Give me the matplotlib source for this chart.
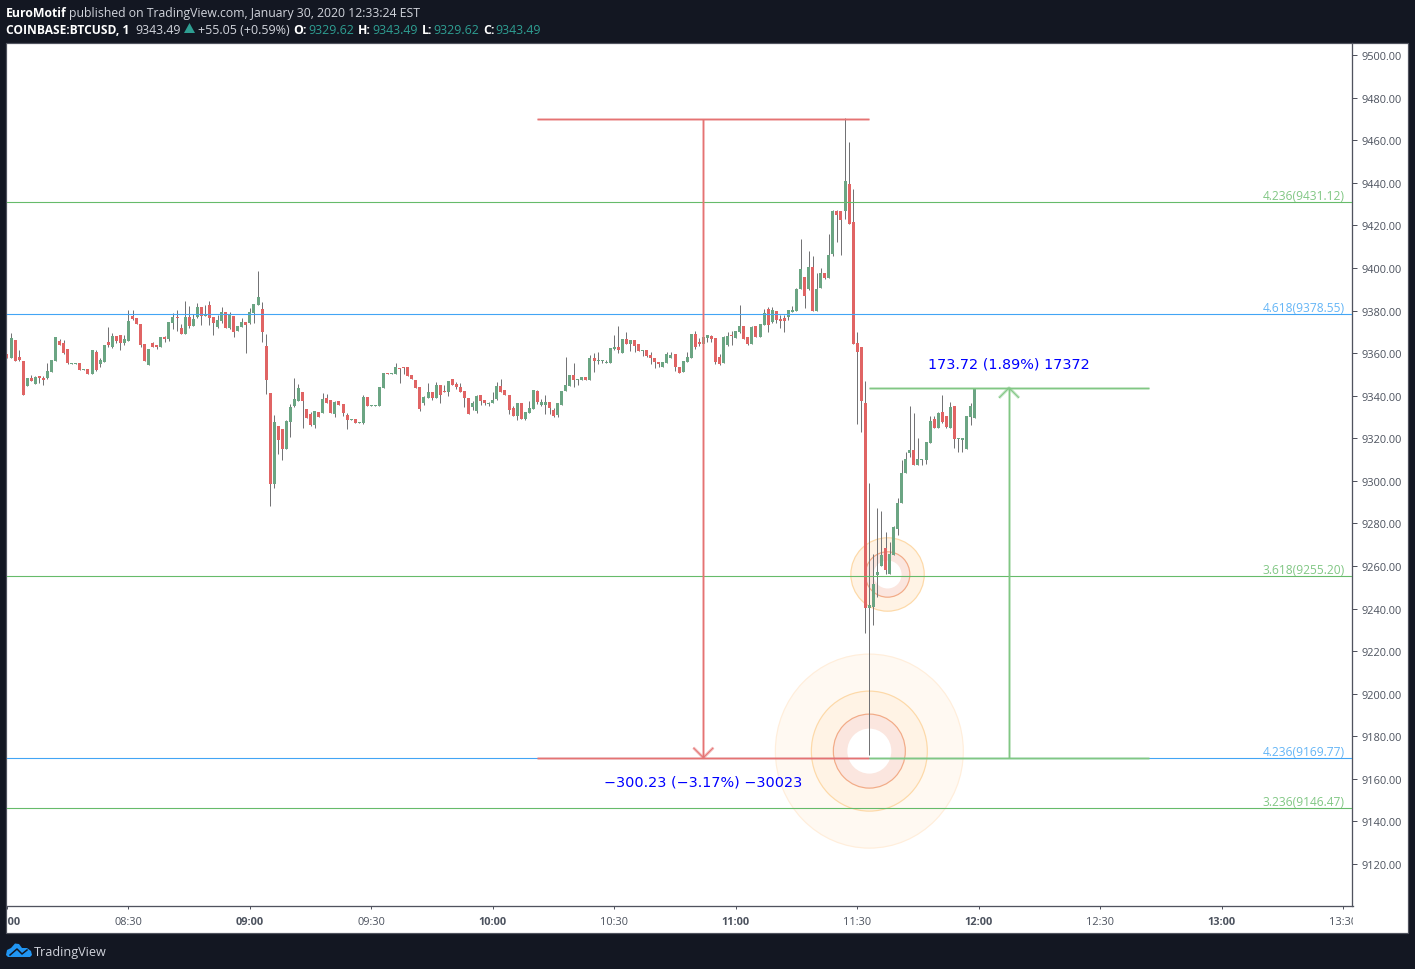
import matplotlib
matplotlib.use("Agg")
import matplotlib.pyplot as plt
import numpy as np
from matplotlib.patches import Rectangle, Ellipse, Polygon
from matplotlib.transforms import IdentityTransform, Bbox

minutes_per_candle = 1
opens = [
 9359.5,9357.6,9366.0,9358.0,9356.2,9344.4,9348.2,9345.4,9349.1,9348.2,
 9348.2,9351.0,9356.2,9365.6,9364.6,9361.8,9354.9,9354.9,9355.2,9352.1,
 9352.4,9350.1,9360.4,9354.8,9355.7,9365.1,9362.7,9367.9,9368.4,9364.6,
 9365.6,9377.3,9376.4,9373.6,9364.2,9354.3,9364.6,9363.7,9362.7,9367.4,
 9366.5,9374.0,9376.8,9371.7,9368.9,9376.8,9372.6,9376.8,9381.5,9377.3,
 9382.5,9376.8,9372.1,9375.0,9379.2,9371.7,9377.3,9370.3,9372.1,9374.5,
 9374.0,9378.7,9382.5,9380.6,9363.2,9341.1,9298.4,9325.6,9324.3,9314.9,
 9327.5,9335.0,9337.4,9341.6,9333.6,9331.3,9326.1,9332.2,9331.8,9338.8,
 9337.9,9331.3,9337.4,9336.0,9330.8,9328.5,9328.9,9327.1,9327.1,9339.3,
 9335.0,9335.0,9335.0,9343.5,9350.6,9350.1,9350.1,9352.9,9353.4,9353.4,
 9349.6,9347.3,9344.0,9336.5,9338.8,9341.6,9338.8,9344.9,9342.1,9341.6,
 9347.7,9345.4,9344.0,9342.1,9338.8,9334.6,9332.7,9340.2,9337.9,9336.0,
 9336.5,9338.3,9344.4,9342.5,9340.2,9334.1,9330.4,9336.5,9328.9,9331.8,
 9333.6,9342.1,9335.5,9335.5,9336.9,9333.2,9330.8,9335.5,9342.1,9344.4,
 9349.6,9347.2,9347.2,9348.6,9347.2,9357.6,9356.2,9356.2,9355.2,9355.2,
 9361.8,9362.7,9359.9,9366.5,9364.2,9366.0,9364.2,9360.9,9361.3,9359.0,
 9357.6,9355.7,9353.3,9355.2,9357.6,9359.5,9353.3,9351.0,9355.7,9357.6,
 9368.9,9365.1,9364.2,9367.0,9367.9,9367.0,9358.0,9355.2,9363.7,9368.4,
 9367.0,9369.8,9372.6,9367.4,9364.2,9372.6,9367.4,9373.1,9380.6,9374.5,
 9379.7,9375.9,9376.4,9376.8,9379.2,9379.7,9390.0,9395.7,9390.0,9400.4,
 9379.7,9390.5,9397.5,9395.2,9406.5,9426.7,9426.7,9426.7,9439.4,9421.5,
 9364.6,9362.8,9336.4,9240.1,9240.6,9255.6,9259.9,9268.3,9256.1,9265.0,
 9277.2,9289.4,9303.5,9312.9,9314.3,9307.3,9309.6,9309.6,9317.6,9328.9,
 9324.7,9332.2,9330.3,9324.7,9335.0,9319.5,9319.0,9314.8,9329.8,9329.62]
highs = [
 9359.5,9369.3,9366.0,9361.3,9356.2,9348.2,9349.6,9349.1,9349.1,9349.1,
 9355.2,9356.6,9367.4,9366.5,9366.0,9361.8,9355.2,9355.2,9355.2,9352.4,
 9352.4,9361.3,9361.3,9357.6,9363.7,9372.1,9369.3,9367.9,9368.4,9368.4,
 9380.1,9380.1,9376.4,9373.6,9364.2,9361.8,9365.1,9363.7,9367.4,9367.9,
 9374.5,9378.7,9380.1,9373.6,9384.4,9382.0,9378.3,9383.4,9381.5,9382.5,
 9384.4,9376.8,9377.8,9381.5,9379.2,9379.2,9377.3,9372.6,9376.4,9374.5,
 9381.1,9383.0,9398.5,9383.9,9368.9,9341.1,9330.8,9325.6,9324.3,9328.5,
 9336.0,9348.2,9345.4,9341.6,9333.6,9332.2,9332.7,9332.2,9341.1,9340.7,
 9337.9,9337.4,9337.4,9336.0,9331.8,9328.9,9328.9,9327.5,9340.2,9339.3,
 9335.5,9335.5,9344.0,9350.6,9350.6,9350.6,9355.3,9352.9,9353.4,9353.4,
 9349.6,9347.3,9344.0,9339.7,9345.9,9341.6,9346.3,9344.9,9344.9,9346.8,
 9347.7,9346.3,9345.9,9342.1,9338.8,9337.4,9340.2,9340.2,9337.9,9336.9,
 9341.6,9346.3,9347.7,9342.5,9340.2,9335.0,9336.5,9336.5,9332.2,9337.4,
 9342.5,9342.5,9338.3,9340.2,9336.9,9334.1,9336.5,9342.1,9358.0,9349.6,
 9355.2,9347.7,9348.6,9348.6,9359.0,9359.9,9360.4,9356.6,9356.6,9362.3,
 9368.4,9372.6,9366.5,9369.8,9366.0,9366.0,9364.2,9361.3,9361.3,9360.4,
 9357.6,9355.7,9355.7,9360.4,9360.4,9359.5,9353.3,9356.2,9360.4,9368.9,
 9370.3,9367.0,9367.4,9368.4,9368.4,9367.0,9359.5,9367.9,9369.8,9370.3,
 9370.3,9382.5,9372.6,9367.4,9372.6,9372.6,9373.6,9380.6,9381.5,9381.5,
 9379.7,9377.8,9377.8,9380.1,9382.0,9390.5,9413.5,9395.7,9407.9,9405.5,
 9397.5,9399.9,9397.5,9415.9,9427.1,9427.1,9426.7,9470.4,9459.1,9437.0,
 9369.8,9362.8,9346.8,9298.9,9265.5,9287.1,9285.7,9275.8,9271.1,9278.6,
 9291.8,9309.6,9313.4,9335.0,9331.7,9320.0,9310.1,9318.1,9330.3,9330.3,
 9332.2,9340.2,9330.3,9336.9,9335.0,9320.0,9320.0,9330.3,9336.4,9343.49]
lows = [
 9357.6,9357.6,9356.2,9356.2,9340.2,9344.4,9346.8,9345.4,9345.8,9344.9,
 9347.7,9351.0,9356.2,9363.7,9359.5,9354.8,9354.9,9354.9,9351.9,9352.1,
 9350.1,9350.1,9351.5,9353.3,9355.7,9362.7,9362.3,9364.6,9361.3,9363.7,
 9365.6,9375.4,9373.6,9362.7,9356.2,9354.3,9362.7,9361.8,9362.7,9365.1,
 9365.6,9371.2,9370.3,9368.9,9368.9,9371.7,9372.6,9376.4,9373.1,9377.3,
 9373.1,9368.4,9371.7,9374.0,9371.7,9371.2,9367.4,9370.3,9372.1,9359.9,
 9373.6,9374.0,9382.5,9365.1,9340.7,9288.0,9296.5,9312.5,9309.7,9314.9,
 9320.5,9334.6,9337.4,9324.7,9329.4,9325.6,9324.7,9329.9,9331.8,9336.5,
 9331.8,9329.9,9335.5,9330.4,9324.2,9328.5,9327.1,9327.1,9326.6,9335.0,
 9335.0,9335.0,9335.0,9343.5,9350.1,9350.1,9350.1,9345.9,9350.1,9349.1,
 9347.7,9343.5,9332.7,9335.5,9338.8,9337.9,9338.8,9336.5,9341.6,9339.7,
 9344.9,9343.0,9341.6,9334.6,9331.3,9333.2,9331.8,9335.5,9335.5,9335.0,
 9336.5,9337.9,9341.6,9340.2,9331.3,9330.4,9328.5,9328.9,9328.5,9331.8,
 9333.6,9336.0,9335.0,9331.3,9331.3,9329.9,9329.9,9335.5,9342.1,9344.4,
 9343.9,9344.9,9347.2,9347.2,9347.2,9351.0,9354.8,9355.2,9355.2,9355.2,
 9361.3,9359.9,9359.9,9364.2,9360.9,9360.4,9360.9,9358.5,9358.0,9354.8,
 9352.9,9353.3,9353.3,9355.2,9357.6,9351.5,9350.5,9351.0,9355.7,9357.6,
 9361.8,9363.2,9364.2,9365.1,9365.1,9354.8,9354.3,9355.2,9363.2,9363.7,
 9367.0,9369.3,9366.5,9363.7,9364.2,9367.4,9367.4,9373.1,9369.8,9374.0,
 9374.0,9371.7,9369.8,9375.4,9379.2,9379.7,9390.0,9381.1,9389.5,9379.7,
 9379.7,9390.5,9394.7,9395.2,9405.5,9412.1,9406.0,9422.9,9420.6,9364.2,
 9326.6,9322.8,9228.4,9171.0,9232.1,9245.3,9259.9,9256.1,9256.1,9265.0,
 9274.4,9289.4,9303.5,9311.0,9307.3,9307.3,9307.3,9307.8,9317.6,9324.7,
 9324.7,9327.0,9324.7,9324.7,9315.3,9313.4,9313.4,9314.8,9326.1,9329.62]
closes = [
 9357.6,9367.0,9356.2,9356.6,9340.2,9348.2,9346.8,9348.6,9348.2,9347.2,
 9351.5,9356.6,9367.4,9363.7,9359.9,9355.2,9355.2,9355.2,9351.9,9352.4,
 9350.1,9361.3,9351.9,9356.6,9363.7,9363.7,9367.9,9365.6,9364.6,9366.5,
 9375.0,9375.9,9373.6,9363.7,9356.2,9361.8,9362.7,9362.7,9367.4,9366.5,
 9374.5,9376.8,9376.4,9368.9,9376.8,9372.6,9375.9,9381.5,9377.3,9378.3,
 9376.4,9374.0,9375.4,9379.2,9371.7,9377.8,9369.8,9372.6,9374.5,9373.1,
 9379.2,9383.0,9386.2,9369.8,9347.2,9298.4,9327.5,9319.0,9314.9,9328.0,
 9334.6,9338.3,9343.5,9337.4,9329.4,9326.1,9332.7,9329.9,9338.3,9336.5,
 9331.8,9336.9,9335.5,9331.8,9328.5,9328.9,9327.1,9327.5,9339.3,9335.0,
 9335.5,9335.5,9344.0,9350.6,9350.1,9350.6,9353.4,9352.4,9352.9,9349.1,
 9347.7,9343.5,9333.6,9339.3,9341.6,9338.8,9344.9,9340.2,9341.6,9346.8,
 9344.9,9344.0,9341.6,9338.8,9331.3,9336.5,9339.7,9337.4,9336.5,9336.5,
 9337.9,9344.4,9341.6,9340.2,9333.2,9330.4,9336.5,9328.9,9332.2,9334.1,
 9342.5,9336.9,9336.9,9336.9,9334.1,9330.4,9336.5,9342.1,9344.9,9349.6,
 9347.2,9347.7,9348.6,9347.2,9357.6,9356.2,9356.6,9356.6,9355.7,9362.3,
 9362.7,9361.3,9366.5,9364.2,9366.0,9363.2,9360.9,9361.3,9358.5,9357.6,
 9355.7,9354.8,9355.7,9359.5,9359.0,9353.3,9350.5,9356.2,9358.0,9368.9,
 9362.7,9364.2,9367.4,9368.4,9366.5,9355.7,9354.8,9367.4,9367.9,9367.9,
 9370.3,9372.6,9366.5,9364.2,9372.1,9367.4,9373.6,9378.7,9373.1,9380.1,
 9375.4,9375.0,9375.0,9380.1,9380.1,9390.0,9399.4,9386.7,9400.4,9379.7,
 9390.0,9397.5,9395.2,9406.0,9426.7,9424.8,9422.4,9440.8,9420.6,9364.2,
 9360.4,9337.4,9240.1,9241.5,9251.4,9257.0,9265.0,9258.0,9265.5,9278.2,
 9289.4,9303.5,9310.1,9314.3,9307.3,9310.1,9310.1,9318.1,9328.0,9324.7,
 9331.7,9327.5,9325.1,9334.5,9319.5,9320.0,9320.0,9330.3,9335.0,9343.49]

fib_prices = [9431.12, 9378.55, 9255.20, 9169.77, 9146.47]
fib_labels = ["4.236(9431.12)", "4.618(9378.55)", "3.618(9255.20)", "4.236(9169.77)", "3.236(9146.47)"]
fib_kinds = ["green", "blue", "green", "blue", "green"]
price_ticks = list(range(9120, 9501, 20))
time_ticks = list(range(0, 331, 30))
time_labels = ["08:00","08:30","09:00","09:30","10:00","10:30","11:00","11:30","12:00","12:30","13:00","13:30"]
drop_high, drop_low = 9470.2, 9169.9
rise_high = 9343.7
drop_label = "\u2212300.23 (\u22123.17%) \u221230023"
rise_label = "173.72 (1.89%) 17372"

BG = "#131722"; UP = "#6BA583"; DOWN = "#E06464"; WICK = "#737375"
AXC = "#50535E"; TXT = "#4C525E"; UI = "Open Sans"
W, H = 1415, 970
px = lambda v: v * 72 / 100

fig = plt.figure(figsize=(W / 100, H / 100), dpi=100, facecolor=BG)
idt = IdentityTransform()
fig.add_artist(Rectangle((6.0, H - 933.5), 1401.5, 890, transform=idt, fc="white", ec=AXC, lw=px(1.2), zorder=-5))

AX_L, AX_R, AX_T, AX_B = 7, 1352.5, 44, 906.5
ax = fig.add_axes([AX_L / W, (H - AX_B) / H, (AX_R - AX_L) / W, (AX_B - AX_T) / H])
PPM, PPU = 4.05, 2.128
X0, Y_SHIFT = 0.12, 0.12
ax.set_xlim(X0, X0 + (AX_R - AX_L) / PPM)
ax.set_ylim(9500 - (AX_B - 56) / PPU + Y_SHIFT, 9500 + (56 - AX_T) / PPU + Y_SHIFT)
ax.patch.set_alpha(0)
for s in ("top", "left"):
    ax.spines[s].set_visible(False)
for s in ("right", "bottom"):
    ax.spines[s].set_color(AXC); ax.spines[s].set_linewidth(px(1.3))

# target rings
def ring(cx, cy, rpx, rpy, fc, ec, z=1):
    ax.add_patch(Ellipse((cx, cy), 2 * rpx / PPM, 2 * rpy / PPU, fc=fc, ec=ec, lw=px(1.2), zorder=z))
big = (213.0, 9173.0); small = (217.5, 9256.0)
ring(*big, 94, 97, "#FFF9F2", "#FFEEDB")
ring(*big, 58, 60, "#FFF3E5", "#FDD9A8")
ring(*big, 36, 37, "#FBE6DF", "#F2AB87")
ring(*big, 22, 22.5, "white", "none")
ring(*small, 36.7, 36.7, "#FFF3E5", "#FDD9A8")
ring(*small, 22.3, 22.7, "#FBE6DF", "#F2AB87")
ring(*small, 14, 14, "white", "none")

# candles
o, h, l, c = map(np.array, (opens, highs, lows, closes))
xs = np.arange(len(o)) * minutes_per_candle
up = c >= o
ax.vlines(xs, l, h, color=WICK, lw=px(1), zorder=3)
ax.bar(xs, np.maximum(np.abs(c - o), 0.35), bottom=np.minimum(o, c), width=3.0 / PPM,
       color=np.where(up, UP, DOWN), lw=0, zorder=4)

# fib levels
fib_col = {"green": ("#66BB6A", "#81C784"), "blue": ("#42A5F5", "#64B5F6")}
for p, lab, k in zip(fib_prices, fib_labels, fib_kinds):
    ax.axhline(p, color=fib_col[k][0], lw=px(1.1), zorder=5)
    ax.annotate(lab, (1, p), xycoords=("axes fraction", "data"), xytext=(-5.5, 0), textcoords="offset points",
                ha="right", va="bottom", color=fib_col[k][1], fontsize=px(12), family=UI, zorder=6)

# measure tools
def halo(xv, yv, col, z=7):
    ax.plot(xv, yv, color=col, lw=px(3), alpha=0.45, solid_capstyle="butt", zorder=z)
    ax.plot(xv, yv, color=col, lw=px(1), solid_capstyle="butt", zorder=z)
RED, GRN = "#E57373", "#81C784"
d0, d1, dm = 131, 213, 172
halo([d0, d1], [drop_high, drop_high], RED); halo([d0, d1], [drop_low, drop_low], RED)
halo([dm, dm], [drop_high, drop_low], RED)
dx, dy = 10 / PPM, 10 / PPU
halo([dm - dx, dm, dm + dx], [drop_low + dy, drop_low, drop_low + dy], RED)
r0, r1, rm = 213, 282.2, 247.5
halo([r0, r1], [rise_high, rise_high], GRN); halo([r0, r1], [drop_low, drop_low], GRN)
halo([rm, rm], [drop_low, rise_high], GRN)
halo([rm - dx, rm, rm + dx], [rise_high - dy, rise_high, rise_high - dy], GRN)
ax.text(dm, drop_low - 11.2, drop_label, color="#0000FF", ha="center", va="center", fontsize=px(14.4), family="DejaVu Sans", zorder=8)
ax.text(rm, rise_high + 11.5, rise_label, color="#0000FF", ha="center", va="center", fontsize=px(14.4), family="DejaVu Sans", zorder=8)

# axes
ax.yaxis.tick_right()
ax.set_yticks(price_ticks)
ax.set_yticklabels([f"{v:.2f}" for v in price_ticks], family=UI, fontsize=px(11), color=TXT)
ax.tick_params(axis="y", length=px(5), width=px(1), color=AXC, pad=px(4))
ax.set_xticks(time_ticks)
ax.set_xticklabels(time_labels, family=UI, fontsize=px(11), color=TXT)
ax.tick_params(axis="x", length=px(3), width=px(1), color=AXC, pad=px(8))
clip = Bbox([[AX_L, H - 933], [AX_R, H - AX_B]])
for lab in ax.get_xticklabels():
    if lab.get_text().endswith(":00"):
        lab.set_fontweight("bold")
    lab.set_clip_box(clip); lab.set_clip_on(True)

# header
def t(x, y, s, col="#D1D4DC", weight="normal", size=12.3, fam=UI):
    return fig.text(x, H - y, s, transform=idt, color=col, fontweight=weight, fontsize=px(size), family=fam, va="baseline", ha="left")
TEAL = "#2E9E92"
t(6, 17, "EuroMotif", "white", "bold", size=12.2)
t(69, 17, "published on TradingView.com, January 30, 2020 12:33:24 EST")
t(6, 34, "COINBASE:BTCUSD, 1", "white", "bold", size=12)
t(135.5, 34, "9343.49", size=12.4)
fig.add_artist(Polygon([[184, H - 34], [195, H - 34], [189.5, H - 24]], transform=idt, fc=TEAL, ec="none"))
t(198, 34, "+55.05 (+0.59%)", size=12.5)
t(293.5, 34, "O:", "white", "bold"); t(308, 34, "9329.62", TEAL, size=12.4)
t(358, 34, "H:", "white", "bold"); t(372, 34, "9343.49", TEAL, size=12.4)
t(422, 34, "L:", "white", "bold"); t(433, 34, "9329.62", TEAL, size=12.4)
t(483, 34, "C:", "white", "bold"); t(495, 34, "9343.49", TEAL, size=12.4)

# logo
cloud = [(6,956),(7,951),(11,949),(15,944.5),(19,945),(22,949),(27,949),(31,952),(32,956),(30,958),(8,958)]
fig.add_artist(Polygon([(a, H - b) for a, b in cloud], transform=idt, fc="#2196F3", ec="none"))
zig = [(10,956),(17,950),(22,955),(27,951)]
fig.add_artist(plt.Line2D([a for a, b in zig], [H - b for a, b in zig], transform=idt, color=BG, lw=px(1.5)))
t(34, 956, "TradingView", "#D1D4DC", size=12.6)

fig.savefig("out.png", dpi=100, facecolor=BG)
